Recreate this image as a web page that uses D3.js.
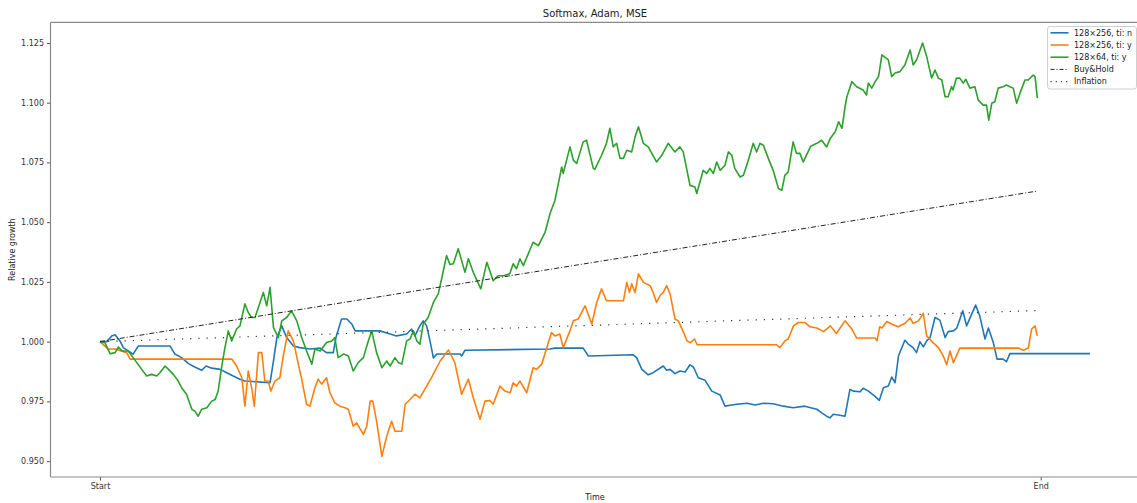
<!DOCTYPE html>
<html>
<head>
<meta charset="utf-8">
<script src="https://cdn.jsdelivr.net/npm/d3@7"></script>
<style>
  html, body { margin: 0; padding: 0; background: #fff; }
  svg { display: block; font-family: "DejaVu Sans", sans-serif; }
</style>
</head>
<body>
<svg id="chart" width="1137" height="503"></svg>
<script>
// Relative growth of each strategy over the test period, [step, value]
const seriesNoTi256 = [
  [0,1.000],[1.8,1.000],[3.1,1.0024],[4.0,1.0029],[5.3,1.0003],[6.2,0.9975],[7.5,0.9961],[8.8,0.9948],
  [10.2,0.9982],[18.6,0.9982],[19.9,0.9948],[21.7,0.9933],[23.5,0.9908],[25.2,0.9894],[27.0,0.9880],
  [28.2,0.9898],[29.7,0.9889],[31.9,0.9884],[33.7,0.9870],[35.4,0.9856],[37.2,0.9843],[38.5,0.9835],
  [45.2,0.9828],[46.1,0.9919],[47.0,1.0017],[48.3,1.0066],[49.6,1.0017],[51.4,0.9982],[53.1,0.9975],
  [55.8,0.9969],[58.5,0.9973],[60.2,0.9954],[62.0,0.9954],[62.7,1.0017],[64.2,1.0095],[65.6,1.0095],
  [66.9,1.0074],[67.8,1.0045],[74.4,1.0045],[77.1,1.0032],[78.8,1.0024],[81.5,1.0032],[82.8,1.0053],
  [83.7,1.0024],[85.0,1.0066],[85.9,1.0087],[86.8,1.0066],[87.7,1.0003],[88.6,0.9932],[89.5,0.9948],
  [95.7,0.9948],[96.1,0.9940],[97.0,0.9964],[119.6,0.9969],[120.9,0.9973],[128.4,0.9973],[129.8,0.9940],
  [141.7,0.9945],[142.6,0.9933],[144.0,0.9884],[145.7,0.9861],[147.0,0.9870],[149.7,0.9898],[150.6,0.9880],
  [151.5,0.9884],[152.8,0.9866],[154.1,0.9877],[155.5,0.9873],[156.8,0.9903],[157.7,0.9894],[159.0,0.9849],
  [160.8,0.9838],[162.6,0.9793],[164.8,0.9777],[166.1,0.9730],[167.9,0.9735],[169.2,0.9738],[171.9,0.9742],
  [174.1,0.9735],[176.3,0.9742],[178.9,0.9740],[181.6,0.9730],[184.2,0.9723],[187.3,0.9730],[190.5,0.9717],
  [191.8,0.9702],[193.1,0.9688],[194.0,0.9681],[194.9,0.9696],[196.2,0.9693],[198.0,0.9688],[199.3,0.9800],
  [200.2,0.9793],[202.0,0.9790],[202.8,0.9805],[204.2,0.9793],[205.9,0.9772],[207.1,0.9754],[208.2,0.9807],
  [209.5,0.9814],[210.4,0.9852],[211.3,0.9828],[212.2,0.9940],[213.9,1.0006],[214.8,0.9990],[216.1,0.9975],
  [217.0,0.9954],[217.9,1.0000],[218.8,0.9978],[219.7,1.0003],[220.6,1.0017],[221.9,1.0101],[223.2,1.0090],
  [224.6,1.0017],[225.4,1.0042],[226.8,1.0045],[227.7,1.0057],[229.3,1.0129],[230.3,1.0066],[232.7,1.0153],
  [233.8,1.0108],[235.2,1.0011],[236.1,1.0057],[237.4,0.9996],[238.4,0.9927],[240.0,0.9927],[240.9,0.9916],
  [241.8,0.9950],[263.1,0.9950]
];

const seriesTi256 = [
  [0,1.000],[2.2,0.9969],[4.0,0.9969],[7.1,0.9954],[8.0,0.9927],[35.0,0.9927],[36.3,0.9898],[37.7,0.9849],
  [38.5,0.9730],[39.4,0.9877],[40.3,0.9807],[41.0,0.9730],[42.1,0.9954],[43.0,0.9954],[43.8,0.9835],
  [44.7,0.9835],[45.4,0.9793],[46.5,0.9835],[47.8,0.9849],[48.7,0.9940],[50.0,1.0045],[51.4,1.0003],
  [52.7,0.9906],[53.6,0.9843],[54.9,0.9738],[55.8,0.9730],[57.1,0.9807],[58.0,0.9843],[58.9,0.9822],
  [60.2,0.9849],[61.1,0.9786],[62.4,0.9744],[63.8,0.9730],[65.1,0.9723],[66.0,0.9717],[67.3,0.9646],
  [68.2,0.9660],[70.0,0.9612],[70.9,0.9646],[71.8,0.9751],[72.5,0.9751],[73.5,0.9667],[74.9,0.9520],
  [76.2,0.9604],[77.5,0.9667],[78.4,0.9625],[80.2,0.9625],[81.1,0.9738],[82.4,0.9758],[83.7,0.9780],
  [85.0,0.9765],[86.8,0.9814],[88.1,0.9849],[90.4,0.9919],[92.6,0.9965],[94.3,0.9912],[96.1,0.9780],
  [97.9,0.9843],[99.2,0.9765],[101.0,0.9675],[102.3,0.9751],[103.6,0.9754],[104.5,0.9738],[106.3,0.9814],
  [107.6,0.9793],[109.0,0.9786],[109.8,0.9828],[110.7,0.9814],[111.6,0.9835],[113.4,0.9786],[115.1,0.9891],
  [116.0,0.9884],[117.4,0.9906],[120.0,1.0038],[120.9,1.0024],[122.2,1.0032],[123.1,0.9975],[124.9,1.0045],
  [125.8,1.0087],[127.1,1.0095],[128.9,1.0150],[130.7,1.0074],[132.0,1.0164],[133.3,1.0221],[134.6,1.0171],
  [139.1,1.0171],[140.0,1.0248],[140.7,1.0206],[141.3,1.0242],[142.2,1.0206],[143.1,1.0284],[144.4,1.0248],
  [146.2,1.0234],[147.0,1.0206],[147.9,1.0164],[148.8,1.0192],[149.7,1.0206],[150.6,1.0234],[151.5,1.0200],
  [152.8,1.0095],[153.7,1.0087],[155.1,1.0038],[156.0,1.0003],[156.9,0.9996],[158.0,1.0011],[158.7,0.9987],
  [179.8,0.9987],[180.7,0.9975],[182.0,1.0003],[182.9,1.0011],[184.3,1.0066],[185.6,1.0080],[187.4,1.0080],
  [188.7,1.0062],[190.5,1.0057],[192.3,1.0042],[194.1,1.0066],[195.7,1.0034],[198.0,1.0087],[199.8,1.0053],
  [201.1,1.0015],[206.0,1.0015],[206.5,1.0003],[207.2,1.0062],[207.8,1.0057],[209.1,1.0084],[210.8,1.0071],
  [212.1,1.0062],[213.9,1.0076],[215.3,1.0099],[216.1,1.0076],[217.5,1.0087],[218.8,1.0118],[219.7,1.0024],
  [221.4,0.9996],[222.8,0.9975],[224.1,0.9940],[225.0,0.9903],[225.9,0.9961],[226.8,0.9912],[228.5,0.9973],
  [244.0,0.9973],[245.4,0.9964],[246.7,0.9973],[247.6,1.0053],[248.5,1.0066],[249.1,1.0024]
];

const seriesTi64 = [
  [0,1.000],[1.3,0.9996],[2.7,0.9949],[4.0,0.9954],[4.9,0.9978],[5.8,0.9961],[7.5,0.9961],[8.8,0.9933],
  [11.1,0.9884],[12.4,0.9856],[13.7,0.9863],[15.1,0.9856],[15.9,0.9870],[17.3,0.9898],[18.2,0.9884],
  [19.5,0.9863],[20.8,0.9835],[21.7,0.9807],[23.0,0.9780],[24.4,0.9717],[25.2,0.9709],[26.1,0.9688],
  [27.0,0.9717],[28.4,0.9723],[29.7,0.9751],[30.6,0.9758],[31.4,0.9793],[32.3,0.9891],[33.2,0.9975],
  [34.1,1.0045],[35.0,1.0003],[36.3,1.0053],[37.2,1.0066],[38.5,1.0158],[39.4,1.0122],[40.3,1.0101],
  [41.2,1.0101],[43.4,1.0206],[44.3,1.0150],[45.2,1.0227],[46.1,1.0059],[47.4,1.0017],[48.3,1.0087],
  [49.6,1.0101],[50.9,1.0129],[52.3,1.0087],[53.6,1.0017],[54.9,0.9961],[56.3,0.9906],[57.1,0.9969],
  [58.5,0.9961],[60.2,0.9996],[61.6,1.0003],[62.4,1.0017],[63.3,0.9933],[64.7,0.9948],[66.0,0.9940],
  [67.3,0.9877],[68.6,0.9912],[70.0,0.9933],[71.3,1.0003],[72.2,1.0045],[73.5,0.9954],[74.9,0.9891],
  [76.2,0.9919],[77.1,0.9898],[78.4,0.9933],[79.3,0.9912],[80.2,0.9906],[81.5,1.0003],[82.4,1.0011],
  [83.3,1.0045],[84.2,1.0003],[85.0,0.9989],[85.9,1.0074],[87.2,1.0101],[88.6,1.0164],[89.9,1.0200],
  [90.8,1.0263],[92.1,1.0360],[93.0,1.0323],[93.9,1.0326],[95.2,1.0389],[97.0,1.0290],[97.9,1.0347],
  [99.2,1.0290],[101.2,1.0221],[102.8,1.0332],[104.5,1.0255],[105.8,1.0276],[107.2,1.0276],[108.9,1.0284],
  [109.8,1.0326],[110.7,1.0305],[111.6,1.0347],[112.5,1.0318],[115.1,1.0416],[116.5,1.0402],[118.3,1.0458],
  [119.6,1.0536],[120.9,1.0591],[122.7,1.0731],[123.1,1.0704],[124.9,1.0815],[125.8,1.0759],[126.7,1.0746],
  [128.4,1.0836],[129.3,1.0843],[131.1,1.0725],[131.5,1.0721],[133.3,1.0780],[134.6,1.0830],[135.5,1.0893],
  [136.4,1.0815],[137.3,1.0830],[138.2,1.0767],[139.1,1.0767],[140.0,1.0801],[141.3,1.0794],[142.2,1.0857],
  [143.1,1.0899],[144.4,1.0830],[145.7,1.0815],[147.9,1.0752],[149.3,1.0780],[151.0,1.0830],[152.8,1.0794],
  [154.1,1.0815],[155.0,1.0794],[156.8,1.0654],[158.1,1.0647],[158.6,1.0620],[160.3,1.0717],[161.2,1.0704],
  [162.1,1.0725],[163.0,1.0704],[163.9,1.0752],[164.8,1.0717],[166.1,1.0738],[167.0,1.0794],[167.9,1.0780],
  [168.7,1.0725],[170.1,1.0689],[171.0,1.0696],[172.3,1.0759],[173.6,1.0830],[174.5,1.0794],[175.4,1.0830],
  [176.3,1.0822],[177.6,1.0767],[178.9,1.0717],[180.3,1.0641],[181.2,1.0633],[182.0,1.0696],[182.9,1.0710],
  [184.2,1.0836],[185.1,1.0788],[186.0,1.0788],[186.9,1.0752],[188.9,1.0818],[190.5,1.0830],[191.8,1.0843],
  [193.1,1.0815],[194.1,1.0851],[195.4,1.0878],[196.3,1.0920],[197.2,1.0893],[198.0,1.0983],[198.5,1.1025],
  [199.8,1.1088],[201.1,1.1067],[202.8,1.1053],[203.7,1.1032],[204.2,1.1082],[205.1,1.1061],[206.0,1.1088],
  [206.9,1.1109],[207.8,1.1200],[209.5,1.1179],[210.4,1.1109],[211.3,1.1124],[212.6,1.1130],[213.9,1.1158],
  [215.3,1.1221],[216.1,1.1158],[217.0,1.1179],[218.6,1.1250],[219.7,1.1193],[221.0,1.1103],[221.9,1.1137],
  [222.8,1.1103],[223.7,1.1095],[224.6,1.1025],[225.4,1.1025],[226.3,1.1067],[226.7,1.1053],[227.6,1.1103],
  [228.5,1.1103],[229.4,1.1082],[230.1,1.1098],[231.2,1.1061],[232.5,1.1067],[233.4,1.1011],[234.7,1.0990],
  [235.6,1.0990],[236.2,1.0927],[237.0,1.0998],[237.8,1.1004],[238.7,1.1061],[240.0,1.1067],[240.9,1.1074],
  [241.8,1.1067],[242.7,1.1061],[243.6,1.0998],[244.5,1.1040],[245.8,1.1095],[246.7,1.1095],[248.0,1.1116],
  [248.5,1.1109],[249.1,1.1019]
];

// Benchmarks over the same period
const buyAndHold = [[0,1.000],[249,1.063]];
const inflation = [[0,1.000],[249,1.013]];

// Axis labelling
const xTickSteps = [0, 250];
const xTickLabels = ["Start", "End"];
const yTicks = [0.950, 0.975, 1.000, 1.025, 1.050, 1.075, 1.100, 1.125];
const seriesNames = ["128×256, ti: n", "128×256, ti: y", "128×64, ti: y", "Buy&Hold", "Inflation"];

const svg = d3.select("#chart");
const plot = { left: 50.5, right: 1139.5, top: 22.3, bottom: 477 };

// autoscale with a 5% margin on each side
const all = [seriesNoTi256, seriesTi256, seriesTi64, buyAndHold, inflation].flat();
const [tMin, tMax] = d3.extent(all, d => d[0]);
const [vMin, vMax] = d3.extent(all, d => d[1]);
const tPad = (tMax - tMin) * 0.05, vPad = (vMax - vMin) * 0.05;

const x = d3.scaleLinear().domain([tMin - tPad, tMax + tPad]).range([plot.left, plot.right]);
const y = d3.scaleLinear().domain([vMin - vPad, vMax + vPad]).range([plot.bottom, plot.top]);

const line = d3.line().x(d => x(d[0])).y(d => y(d[1]));

const styles = [
  { data: seriesNoTi256, color: "#1f77b4", width: 1.6, dash: null },
  { data: seriesTi256,  color: "#ff7f0e", width: 1.6, dash: null },
  { data: seriesTi64,   color: "#2ca02c", width: 1.6, dash: null },
  { data: buyAndHold,   color: "#222",    width: 1.0, dash: "5,2,1,2" },
  { data: inflation,    color: "#333",    width: 1.2, dash: "1.2,7" }
];

svg.append("defs").append("clipPath").attr("id", "plotClip")
  .append("rect").attr("x", plot.left).attr("y", plot.top)
  .attr("width", plot.right - plot.left).attr("height", plot.bottom - plot.top);

const g = svg.append("g").attr("clip-path", "url(#plotClip)");
styles.forEach(s => {
  g.append("path")
    .datum(s.data)
    .attr("d", line)
    .attr("fill", "none")
    .attr("stroke", s.color)
    .attr("stroke-width", s.width)
    .attr("stroke-linejoin", "round")
    .attr("stroke-dasharray", s.dash);
});

// axes
const yAxis = d3.axisLeft(y).tickValues(yTicks).tickFormat(d3.format(".3f")).tickSize(3.5).tickPadding(3);
const xAxis = d3.axisBottom(x).tickValues(xTickSteps).tickFormat((d, i) => xTickLabels[i]).tickSize(3.5).tickPadding(3);

const ya = svg.append("g").attr("transform", `translate(${plot.left},0)`).call(yAxis);
const xa = svg.append("g").attr("transform", `translate(0,${plot.bottom})`).call(xAxis);
[ya, xa].forEach(a => {
  a.select(".domain").remove();
  a.selectAll(".tick line").attr("stroke", "#444").attr("stroke-width", 0.9);
  a.selectAll(".tick text").attr("fill", "#333").style("font-size", "8px").style("font-family", "DejaVu Sans");
});

// spines
const spine = svg.append("g").attr("stroke", "#8a8a8a").attr("stroke-width", 1.2).attr("fill", "none");
spine.append("line").attr("x1", plot.left).attr("x2", plot.left).attr("y1", plot.top).attr("y2", plot.bottom);
spine.append("line").attr("x1", plot.left).attr("x2", plot.right).attr("y1", plot.bottom).attr("y2", plot.bottom);
spine.append("line").attr("x1", plot.left).attr("x2", plot.right).attr("y1", plot.top).attr("y2", plot.top);
spine.append("line").attr("x1", plot.right).attr("x2", plot.right).attr("y1", plot.top).attr("y2", plot.bottom);

// titles
const cx = (plot.left + plot.right) / 2;
svg.append("text").attr("x", cx).attr("y", 17).attr("text-anchor", "middle")
  .attr("fill", "#222").style("font-size", "10px").text("Softmax, Adam, MSE");
svg.append("text").attr("x", cx).attr("y", 500).attr("text-anchor", "middle")
  .attr("fill", "#222").style("font-size", "8px").text("Time");
svg.append("text").attr("transform", `translate(15,${(plot.top + plot.bottom) / 2}) rotate(-90)`)
  .attr("text-anchor", "middle").attr("fill", "#222").style("font-size", "8px").text("Relative growth");

// legend
const lg = svg.append("g").attr("transform", "translate(1047.5,26.5)");
lg.append("rect").attr("width", 89).attr("height", 62.5).attr("rx", 2.5)
  .attr("fill", "#fff").attr("fill-opacity", 0.8).attr("stroke", "#d0d0d0").attr("stroke-width", 1);
seriesNames.forEach((name, i) => {
  const yy = 6.3 + i * 12.2;
  const s = styles[i];
  lg.append("line").attr("x1", 3).attr("x2", 21).attr("y1", yy).attr("y2", yy)
    .attr("stroke", s.color).attr("stroke-width", s.width)
    .attr("stroke-dasharray", i === 3 ? "4,2,1,2" : (i === 4 ? "1.2,4" : null));
  lg.append("text").attr("x", 26.5).attr("y", yy).attr("dy", "0.35em")
    .attr("fill", "#222").style("font-size", "8px").text(name);
});
</script>
</body>
</html>
